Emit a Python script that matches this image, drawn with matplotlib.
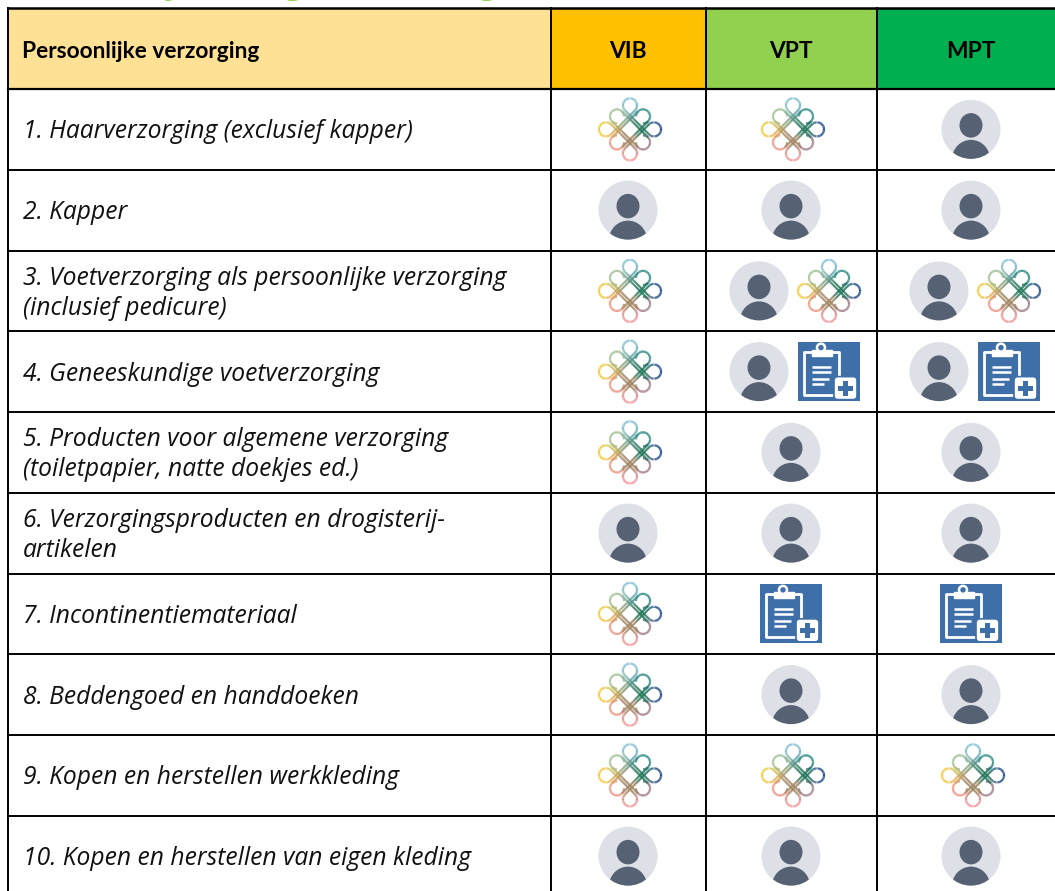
import numpy as np
import matplotlib
matplotlib.use("Agg")
import matplotlib.pyplot as plt
import matplotlib.patches as patches
from matplotlib.collections import LineCollection

plt.rcParams['font.family'] = ['Open Sans', 'DejaVu Sans']

headers = ["Persoonlijke verzorging", "VIB", "VPT", "MPT"]
header_colors = ["#FFE195", "#FFC000", "#92D050", "#00B050"]
rows = [
    "1. Haarverzorging (exclusief kapper)",
    "2. Kapper",
    "3. Voetverzorging als persoonlijke verzorging\n(inclusief pedicure)",
    "4. Geneeskundige voetverzorging",
    "5. Producten voor algemene verzorging\n(toiletpapier, natte doekjes ed.)",
    "6. Verzorgingsproducten en drogisterij-\nartikelen",
    "7. Incontinentiemateriaal",
    "8. Beddengoed en handdoeken",
    "9. Kopen en herstellen werkkleding",
    "10. Kopen en herstellen van eigen kleding",
]
# k = knot logo, p = person, c = clipboard
vib = ["k", "p", "k", "k", "k", "p", "k", "k", "k", "p"]
vpt = ["k", "p", "pk", "pc", "p", "p", "c", "p", "k", "p"]
mpt = ["p", "p", "pk", "pc", "p", "p", "c", "p", "k", "p"]

col_edges = [7.5, 551, 706, 877, 1056]
top, header_bottom, row_h = 8, 89, 80.75

fig = plt.figure(figsize=(10.55, 8.91), dpi=100)
ax = fig.add_axes([0, 0, 1, 1])
ax.set_xlim(0, 1055)
ax.set_ylim(891, 0)
ax.axis('off')

# gradient colours of the knot
knot_anchors = np.array([[0, -28], [-28, 0], [28, 0], [0, 28], [-17, -17], [17, -17], [-17, 17], [17, 17], [12, 0], [0, 12]], dtype=float)
knot_colors = matplotlib.colors.to_rgba_array(["#7cbcd6", "#f6c92a", "#123f88", "#f78d90", "#9cbd8e", "#1f857b",
                                               "#ee8e7a", "#9c7680", "#1f7558", "#a08460"])[:, :3]

def knot_shape():
    parts = []
    # strands between the tip loops, and between the corner loops
    for a, b in [((-5, -19), (19, 5)), ((5, -19), (-19, 5)), ((-5, 19), (19, -5)), ((5, 19), (-19, -5)),
                 ((-8, -18), (18, 8)), ((-18, -8), (8, 18)), ((8, -18), (-18, 8)), ((18, -8), (-8, 18))]:
        parts.append(np.linspace(a, b, 25))
    # loops, open towards the centre
    for cx, cy in [(0, -24), (-24, 0), (24, 0), (0, 24), (-13, -13), (13, -13), (-13, 13), (13, 13)]:
        mid = np.arctan2(cy, cx)
        t = np.linspace(mid - 3 * np.pi / 4, mid + 3 * np.pi / 4, 40)
        parts.append(np.c_[cx + 7.07 * np.cos(t), cy + 7.07 * np.sin(t)])
    return parts

def draw_knot(x, y):
    segs, cols = [], []
    for p in knot_shape():
        for a, b in zip(p[:-1], p[1:]):
            m = (a + b) / 2
            w = 1 / (np.sum((knot_anchors - m) ** 2, axis=1) + 6) ** 2
            segs.append([a + (x, y), b + (x, y)])
            cols.append((knot_colors * w[:, None]).sum(axis=0) / w.sum())
    ax.add_collection(LineCollection(segs, colors=cols, linewidths=1.6, alpha=0.9, zorder=3))

def draw_person(x, y):
    disc = patches.Circle((x, y), 29.5, fc="#dde0e6", ec="none", zorder=3)
    ax.add_patch(disc)
    ax.add_patch(patches.Ellipse((x, y - 4), 23, 24.5, fc="#566173", ec="none", zorder=4))
    body = patches.Ellipse((x, y + 30), 38, 39, fc="#566173", ec="none", zorder=4)
    ax.add_patch(body)
    body.set_clip_path(disc)

def draw_clipboard(x, y):
    ax.add_patch(patches.Rectangle((x - 31, y - 30), 62, 59, fc="#3f6fa8", ec="none", zorder=3))
    w = dict(color="white", lw=2.0, zorder=4, solid_capstyle='butt')
    ax.plot([x - 17, x - 25, x - 25, x + 4], [y - 20, y - 20, y + 23, y + 23], **w)
    ax.plot([x + 3, x + 10, x + 10], [y - 20, y - 20, y + 6], **w)
    ax.add_patch(patches.Rectangle((x - 17, y - 22), 20, 6, fc="white", ec="white", lw=1, zorder=4))
    ax.add_patch(patches.Circle((x - 8, y - 24), 4, fc="#3f6fa8", ec="white", lw=1.8, zorder=4))
    for dy, x1 in zip([-5, 0, 7, 12], [2, 2, 0, -5]):
        ax.plot([x - 17, x + x1], [y + dy, y + dy], color="white", lw=1.8, zorder=4, solid_capstyle='butt')
    ax.add_patch(patches.FancyBboxPatch((x + 8, y + 8), 17, 17, boxstyle="round,pad=3,rounding_size=4",
                                        fc="white", ec="#3f6fa8", lw=1.2, zorder=5))
    ax.add_patch(patches.Rectangle((x + 9, y + 14), 15, 5, fc="#3f6fa8", ec="none", zorder=6))
    ax.add_patch(patches.Rectangle((x + 14, y + 9), 5, 15, fc="#3f6fa8", ec="none", zorder=6))

draw_icon = {"k": draw_knot, "p": draw_person, "c": draw_clipboard}
# icon x positions per column: single icon, then left and right of a pair
single_x = {"k": [630, 793, 973], "p": [628, 791, 971], "c": [628, 791, 971]}
pair_x = [None, (759, 829), (939, 1009)]
header_x = [22, 628, 791, 971]

# header
for i, (name, color) in enumerate(zip(headers, header_colors)):
    ax.add_patch(patches.Rectangle((col_edges[i], top), col_edges[i + 1] - col_edges[i], header_bottom - top,
                                   fc=color, ec="none", zorder=1))
    ax.text(header_x[i], 51, name, fontsize=16.4, fontweight='bold', va='center', ha='left' if i == 0 else 'center',
            family=['Lato', 'DejaVu Sans'])

# rows
for r, label in enumerate(rows):
    yc = header_bottom + row_h * (r + 0.5)
    ax.text(23, yc + 2.5, label, fontsize=17.7, fontstyle='italic', va='center', ha='left', linespacing=1.25, color="#111111")
    for c, marks in enumerate([vib, vpt, mpt]):
        m = marks[r]
        if len(m) == 1:
            draw_icon[m](single_x[m][c], yc)
        else:
            for kind, x in zip(m, pair_x[c]):
                draw_icon[kind](x, yc)

# grid lines
n = len(rows)
ax.plot([col_edges[0], 1055], [top, top], color="black", lw=1.8, zorder=7)
ax.plot([col_edges[0], 1055], [header_bottom, header_bottom], color="black", lw=1.6, zorder=7)
for r in range(1, n):
    ax.plot([col_edges[0], 1055], [header_bottom + row_h * r] * 2, color="black", lw=1.4, zorder=7)
for x in col_edges[:4]:
    ax.plot([x, x], [top, 891], color="black", lw=1.4, zorder=7)

# cut off title above the table
for x, ch in zip([178, 296, 490], "ygg"):
    ax.text(x, -8, ch, fontsize=28, fontweight='bold', fontstyle='italic', color="#92D050", ha='center', va='baseline')

fig.savefig("out.png", dpi=100)
